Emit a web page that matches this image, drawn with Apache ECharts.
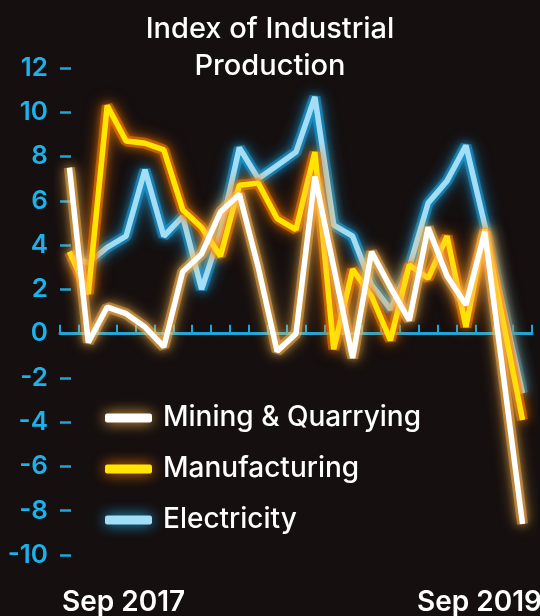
<!DOCTYPE html>
<html>
<head>
<meta charset="utf-8">
<script src="https://cdn.jsdelivr.net/npm/echarts@6/dist/echarts.min.js"></script>
<style>
  html, body { margin: 0; padding: 0; background: #150f0f; }
  #chart { width: 540px; height: 616px; }
</style>
</head>
<body>
<div id="chart"></div>
<script>
// Monthly year-on-year growth (%), Sep 2017 – Sep 2019
const months = [
  'Sep 2017', 'Oct 2017', 'Nov 2017', 'Dec 2017', 'Jan 2018', 'Feb 2018',
  'Mar 2018', 'Apr 2018', 'May 2018', 'Jun 2018', 'Jul 2018', 'Aug 2018',
  'Sep 2018', 'Oct 2018', 'Nov 2018', 'Dec 2018', 'Jan 2019', 'Feb 2019',
  'Mar 2019', 'Apr 2019', 'May 2019', 'Jun 2019', 'Jul 2019', 'Aug 2019',
  'Sep 2019'
];
const mining = [7.5, -0.4, 1.2, 0.9, 0.3, -0.6, 2.8, 3.6, 5.5, 6.3, 3.0, -0.8,
  0.0, 7.1, 3.0, -1.1, 3.7, 2.1, 0.6, 4.8, 2.6, 1.3, 4.6, -2.0, -8.6];
const manufacturing = [3.7, 1.8, 10.3, 8.7, 8.6, 8.3, 5.6, 4.8, 3.5, 6.7, 6.8, 5.2,
  4.7, 8.2, -0.7, 2.9, 1.7, -0.3, 3.1, 2.5, 4.4, 0.3, 4.7, 0.4, -3.9];
const electricity = [3.5, 3.2, 3.9, 4.4, 7.4, 4.4, 5.3, 2.0, 4.6, 8.4, 7.0, 7.6,
  8.2, 10.7, 4.9, 4.4, 2.2, 1.1, 3.0, 5.9, 6.9, 8.5, 4.9, 1.1, -2.7];
const yTicks = { min: -10, max: 12, step: 2 };

const FONT = 'Inter, "Noto Sans", sans-serif';
const AXIS_BLUE = '#1ca6da';

// line colour and halo colour per series
const palette = {
  'Mining & Quarrying': { line: '#ffffff', glow: 'rgba(255,185,80,1)', haze: 'rgba(255,185,80,0.45)' },
  'Manufacturing': { line: '#ffe600', glow: 'rgba(255,125,0,1)', haze: 'rgba(255,125,0,0.5)' },
  'Electricity': { line: '#a3def7', glow: 'rgba(30,170,235,1)', haze: 'rgba(30,170,235,0.45)' }
};

// soft neon halo drawn underneath each line
function haloLine(name, data, z) {
  const c = palette[name];
  return {
    name: name + ' halo',
    type: 'line',
    data: data,
    z: z,
    silent: true,
    symbol: 'none',
    lineStyle: {
      color: c.haze,
      width: 11,
      shadowBlur: 16,
      shadowColor: c.glow
    }
  };
}

function glowLine(name, data, z) {
  const c = palette[name];
  return {
    name: name,
    type: 'line',
    data: data,
    z: z,
    symbol: 'none',
    lineStyle: {
      color: c.line,
      width: 5.5,
      shadowBlur: 10,
      shadowColor: c.glow
    },
    itemStyle: { color: c.line }
  };
}

function legendItem(name) {
  const c = palette[name];
  return {
    name: name,
    itemStyle: { color: c.line, shadowBlur: 14, shadowColor: c.glow }
  };
}

const chart = echarts.init(document.getElementById('chart'), null, { renderer: 'canvas' });

chart.setOption({
  backgroundColor: '#150f0f',
  animation: false,
  title: {
    text: 'Index of Industrial\nProduction',
    left: 'center',
    top: 6,
    textStyle: {
      color: '#ffffff',
      fontFamily: FONT,
      fontWeight: 500,
      fontSize: 29,
      lineHeight: 37
    }
  },
  legend: {
    orient: 'vertical',
    left: 105,
    top: 403,
    padding: 0,
    itemWidth: 47,
    itemHeight: 9,
    itemGap: 21,
    icon: 'roundRect',
    data: ['Mining & Quarrying', 'Manufacturing', 'Electricity'].map(legendItem),
    textStyle: {
      color: '#ffffff',
      fontFamily: FONT,
      fontWeight: 500,
      fontSize: 28,
      lineHeight: 30,
      padding: [0, 0, 0, 6]
    }
  },
  grid: { left: 60, right: 8, top: 68, bottom: 61 },
  xAxis: {
    type: 'category',
    data: months,
    boundaryGap: true,
    axisLine: { onZero: true, lineStyle: { color: AXIS_BLUE, width: 3 } },
    axisTick: { show: true, inside: true, interval: 0, length: 9, lineStyle: { color: AXIS_BLUE, width: 2 } },
    axisLabel: { show: false },
    splitLine: { show: false }
  },
  yAxis: {
    type: 'value',
    min: yTicks.min,
    max: yTicks.max,
    interval: yTicks.step,
    axisLine: { show: false },
    axisTick: { show: true, inside: true, length: 11, lineStyle: { color: AXIS_BLUE, width: 2.5 } },
    splitLine: { show: false },
    axisLabel: {
      color: '#1cb2ec',
      fontFamily: FONT,
      fontWeight: 600,
      fontSize: 26,
      margin: 12
    }
  },
  graphic: [
    {
      type: 'text',
      left: 62,
      top: 589,
      style: {
        text: months[0],
        fill: '#ffffff',
        font: '600 28px ' + FONT
      }
    },
    {
      type: 'text',
      right: -2,
      top: 589,
      style: {
        text: months[months.length - 1],
        fill: '#ffffff',
        font: '600 28px ' + FONT
      }
    }
  ],
  series: [
    haloLine('Electricity', electricity, 2),
    glowLine('Electricity', electricity, 3),
    haloLine('Manufacturing', manufacturing, 4),
    glowLine('Manufacturing', manufacturing, 5),
    haloLine('Mining & Quarrying', mining, 6),
    glowLine('Mining & Quarrying', mining, 7)
  ]
});
</script>
</body>
</html>
